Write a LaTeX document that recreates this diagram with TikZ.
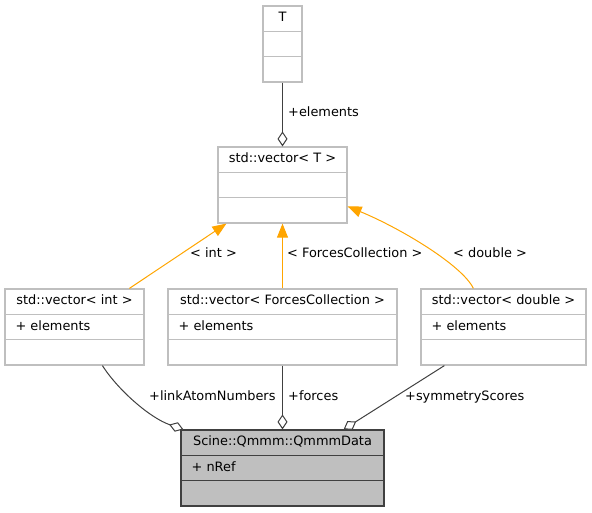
\documentclass[tikz,border=0pt]{standalone}
\usepackage{fontspec}
\setmainfont{DejaVu Sans}
\usetikzlibrary{arrows.meta,calc}
\definecolor{boxgray}{HTML}{BFBFBF}
\definecolor{edgegray}{HTML}{404040}
\definecolor{inhorange}{HTML}{FFA500}
\begin{document}
\begin{tikzpicture}[x=1pt,y=-1pt,
  font=\fontsize{12.9}{15}\selectfont,
  umlbox/.style={draw=boxgray,line width=1.2pt,fill=white,inner sep=0pt,minimum height=76pt},
  mainbox/.style={draw=edgegray,line width=1.2pt,fill=boxgray,inner sep=0pt,minimum height=76pt},
  divider/.style={draw=boxgray,line width=1.2pt},
  maindivider/.style={draw=edgegray,line width=1.2pt},
  txt/.style={inner sep=0pt,text height=9.5pt,text depth=2.5pt},
  agg/.style={draw=edgegray,line width=1pt,-{Diamond[length=15pt,width=10pt,fill=white,line width=1pt]}},
  inh/.style={draw=inhorange,line width=1pt,-{Triangle[length=14pt,width=11pt,fill=inhorange]}},
  elabel/.style={txt,anchor=west}
]
\useasboundingbox (0,0) rectangle (592,512);

% boxes
\node[umlbox,minimum width=39pt] (T) at (282.5,44) {};
\node[umlbox,minimum width=129pt] (V) at (282.5,185) {};
\node[umlbox,minimum width=139pt] (VI) at (74.5,327) {};
\node[umlbox,minimum width=229pt] (VF) at (282.5,327) {};
\node[umlbox,minimum width=165pt] (VD) at (503.5,327) {};
\node[mainbox,minimum width=203pt] (Q) at (282.5,468) {};

% dividers
\foreach \b in {T,V,VI,VF,VD}{
  \draw[divider] ($(\b.north west)+(0,26)$) -- ($(\b.north east)+(0,26)$);
  \draw[divider] ($(\b.north west)+(0,51)$) -- ($(\b.north east)+(0,51)$);
}
\draw[maindivider] ($(Q.north west)+(0,26)$) -- ($(Q.north east)+(0,26)$);
\draw[maindivider] ($(Q.north west)+(0,51)$) -- ($(Q.north east)+(0,51)$);

% titles
\node[txt] (tT) at ($(T.north)+(0,13)$) {T};
\node[txt] (tV) at ($(V.north)+(0,13)$) {std::vector< T >};
\node[txt] (tVI) at ($(VI.north)+(0,13)$) {std::vector< int >};
\node[txt] (tVF) at ($(VF.north)+(0,13)$) {std::vector< ForcesCollection >};
\node[txt] (tVD) at ($(VD.north)+(0,13)$) {std::vector< double >};
\node[txt] (tQ) at ($(Q.north)+(0,13)$) {Scine::Qmmm::QmmmData};

% members
\node[txt,anchor=west] (mVI) at ($(VI.north west)+(11,38.5)$) {+ elements};
\node[txt,anchor=west] (mVF) at ($(VF.north west)+(11,38.5)$) {+ elements};
\node[txt,anchor=west] (mVD) at ($(VD.north west)+(11,38.5)$) {+ elements};
\node[txt,anchor=west] (mQ) at ($(Q.north west)+(11,38.5)$) {+ nRef};

% aggregation edges
\draw[agg] (T.south) -- (V.north);
\draw[agg] ($(VI.south west)+(98,0)$) .. controls (118,390) and (150,418) .. ($(Q.north west)+(3,0)$);
\draw[agg] (VF.south) -- (Q.north);
\draw[agg] ($(VD.south west)+(24,0)$) -- ($(Q.north east)+(-41,0)$);

% inheritance / template edges
\draw[inh] ($(VI.north west)+(125,0)$) -- ($(V.south west)+(9,0)$);
\draw[inh] (VF.north) -- (V.south);
\draw[inh] ($(VD.north west)+(53,0)$) .. controls (462,265) and (400,228) .. ($(V.north east)+(0,60)$);

% edge labels
\node[elabel] (lE) at (288,113) {+elements};
\node[elabel] (lI) at (190,254) {< int >};
\node[elabel] (lF) at (287,254) {< ForcesCollection >};
\node[elabel] (lD) at (453,254) {< double >};
\node[elabel] (lL) at (149,397) {+linkAtomNumbers};
\node[elabel] (lFo) at (288,397) {+forces};
\node[elabel] (lS) at (405,397) {+symmetryScores};
\end{tikzpicture}
\end{document}
